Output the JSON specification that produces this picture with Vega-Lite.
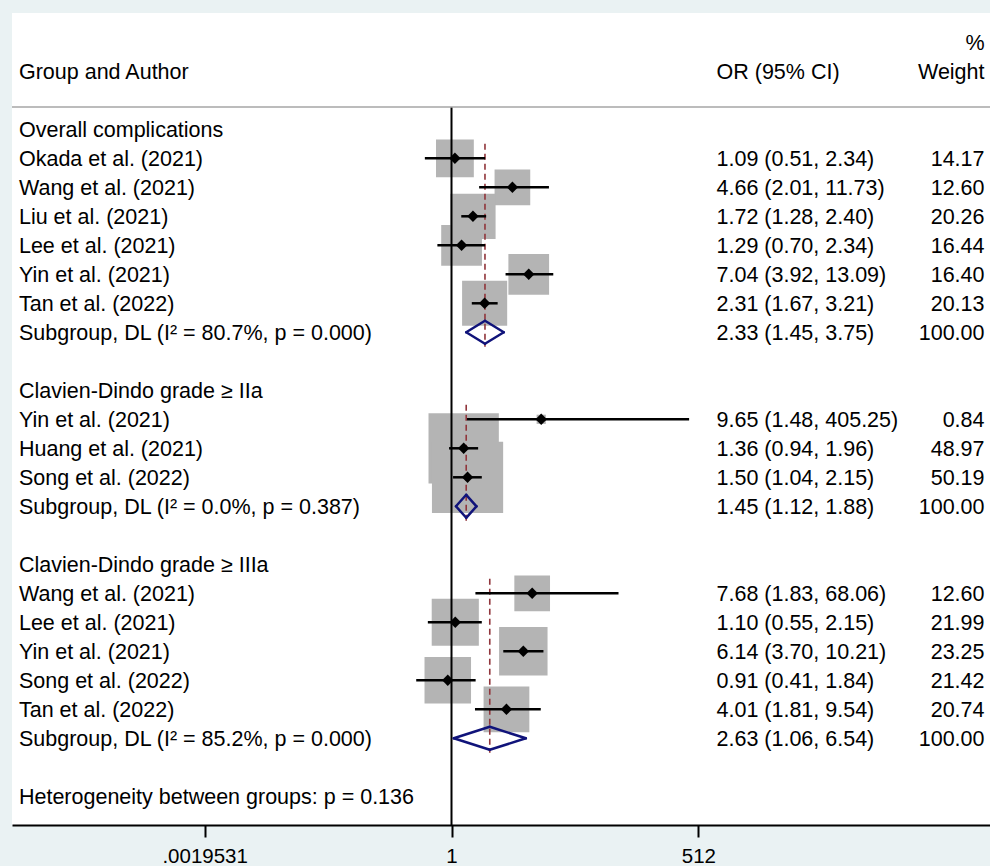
{
  "$schema": "https://vega.github.io/schema/vega-lite/v6.json",
  "width": 978,
  "height": 812,
  "autosize": "none",
  "padding": {"left": 12, "top": 13, "right": 0, "bottom": 41},
  "background": "#eaf2f3",
  "config": {"view": {"stroke": null, "fill": "white"}, "text": {"font": "Liberation Sans", "fontSize": 21.5, "color": "black", "baseline": "middle", "dy": 1.5}},
  "datasets": {
    "rows": [
      {"row": 0, "group": 1, "type": "group", "label": "Overall complications"},
      {"row": 1, "group": 1, "type": "study", "label": "Okada et al. (2021)", "or": 1.09, "lo": 0.51, "hi": 2.34, "weight": 14.17, "ci": "1.09 (0.51, 2.34)"},
      {"row": 2, "group": 1, "type": "study", "label": "Wang et al. (2021)", "or": 4.66, "lo": 2.01, "hi": 11.73, "weight": 12.60, "ci": "4.66 (2.01, 11.73)"},
      {"row": 3, "group": 1, "type": "study", "label": "Liu et al. (2021)", "or": 1.72, "lo": 1.28, "hi": 2.40, "weight": 20.26, "ci": "1.72 (1.28, 2.40)"},
      {"row": 4, "group": 1, "type": "study", "label": "Lee et al. (2021)", "or": 1.29, "lo": 0.70, "hi": 2.34, "weight": 16.44, "ci": "1.29 (0.70, 2.34)"},
      {"row": 5, "group": 1, "type": "study", "label": "Yin et al. (2021)", "or": 7.04, "lo": 3.92, "hi": 13.09, "weight": 16.40, "ci": "7.04 (3.92, 13.09)"},
      {"row": 6, "group": 1, "type": "study", "label": "Tan et al. (2022)", "or": 2.31, "lo": 1.67, "hi": 3.21, "weight": 20.13, "ci": "2.31 (1.67, 3.21)"},
      {"row": 7, "group": 1, "type": "subgroup", "label": "Subgroup, DL (I² = 80.7%, p = 0.000)", "or": 2.33, "lo": 1.45, "hi": 3.75, "weight": 100.00, "ci": "2.33 (1.45, 3.75)"},
      {"row": 9, "group": 2, "type": "group", "label": "Clavien-Dindo grade ≥ IIa"},
      {"row": 10, "group": 2, "type": "study", "label": "Yin et al. (2021)", "or": 9.65, "lo": 1.48, "hi": 405.25, "weight": 0.84, "ci": "9.65 (1.48, 405.25)"},
      {"row": 11, "group": 2, "type": "study", "label": "Huang et al. (2021)", "or": 1.36, "lo": 0.94, "hi": 1.96, "weight": 48.97, "ci": "1.36 (0.94, 1.96)"},
      {"row": 12, "group": 2, "type": "study", "label": "Song et al. (2022)", "or": 1.50, "lo": 1.04, "hi": 2.15, "weight": 50.19, "ci": "1.50 (1.04, 2.15)"},
      {"row": 13, "group": 2, "type": "subgroup", "label": "Subgroup, DL (I² = 0.0%, p = 0.387)", "or": 1.45, "lo": 1.12, "hi": 1.88, "weight": 100.00, "ci": "1.45 (1.12, 1.88)"},
      {"row": 15, "group": 3, "type": "group", "label": "Clavien-Dindo grade ≥ IIIa"},
      {"row": 16, "group": 3, "type": "study", "label": "Wang et al. (2021)", "or": 7.68, "lo": 1.83, "hi": 68.06, "weight": 12.60, "ci": "7.68 (1.83, 68.06)"},
      {"row": 17, "group": 3, "type": "study", "label": "Lee et al. (2021)", "or": 1.10, "lo": 0.55, "hi": 2.15, "weight": 21.99, "ci": "1.10 (0.55, 2.15)"},
      {"row": 18, "group": 3, "type": "study", "label": "Yin et al. (2021)", "or": 6.14, "lo": 3.70, "hi": 10.21, "weight": 23.25, "ci": "6.14 (3.70, 10.21)"},
      {"row": 19, "group": 3, "type": "study", "label": "Song et al. (2022)", "or": 0.91, "lo": 0.41, "hi": 1.84, "weight": 21.42, "ci": "0.91 (0.41, 1.84)"},
      {"row": 20, "group": 3, "type": "study", "label": "Tan et al. (2022)", "or": 4.01, "lo": 1.81, "hi": 9.54, "weight": 20.74, "ci": "4.01 (1.81, 9.54)"},
      {"row": 21, "group": 3, "type": "subgroup", "label": "Subgroup, DL (I² = 85.2%, p = 0.000)", "or": 2.63, "lo": 1.06, "hi": 6.54, "weight": 100.00, "ci": "2.63 (1.06, 6.54)"},
      {"row": 23, "group": 0, "type": "note", "label": "Heterogeneity between groups: p = 0.136"}
    ],
    "header": [
      {"row": -3, "col": "w", "text": "%"},
      {"row": -2, "col": "left", "text": "Group and Author"},
      {"row": -2, "col": "or", "text": "OR (95% CI)"},
      {"row": -2, "col": "w", "text": "Weight"}
    ]
  },
  "layer": [
    {
      "data": {"name": "rows"},
      "transform": [{"filter": "datum.type === 'study'"}],
      "mark": {"type": "point", "shape": "square", "filled": true, "color": "#b4b4b4", "opacity": 1, "strokeWidth": 0},
      "encoding": {
        "x": {"field": "or", "type": "quantitative", "title": null,
              "scale": {"type": "log", "base": 2, "domain": [0.000015017, 812540], "nice": false},
              "axis": {"values": [0.001953125, 1, 512], "labelExpr": "datum.value < 0.01 ? '.0019531' : (datum.value < 2 ? '1' : '512')", "grid": false, "domainColor": "black", "domainWidth": 2, "tickColor": "black", "tickWidth": 2, "tickSize": 12, "labelFont": "Liberation Sans", "labelFontSize": 20.5, "labelColor": "black", "labelPadding": 9, "title": null, "labelFlush": false, "labelOverlap": false}},
        "y": {"field": "row", "type": "quantitative", "scale": {"domain": [-4.0103, 23.99], "reverse": true, "nice": false, "zero": false}, "axis": null},
        "size": {"field": "weight", "type": "quantitative", "scale": {"type": "linear", "domain": [0, 100], "range": [0, 10100]}, "legend": null}
      }
    },
    {
      "data": {"values": [{"ref": 1}]},
      "mark": {"type": "rule", "color": "black", "strokeWidth": 2},
      "encoding": {
        "x": {"field": "ref", "type": "quantitative", "title": null},
        "y": {"datum": -0.769, "type": "quantitative", "axis": null},
        "y2": {"datum": 23.99}
      }
    },
    {
      "data": {"values": [{"pos": -0.769}]},
      "mark": {"type": "rule", "color": "#a6a6a6", "strokeWidth": 1.5},
      "encoding": {
        "y": {"field": "pos", "type": "quantitative", "axis": null}
      }
    },
    {
      "data": {"name": "rows"},
      "transform": [
        {"filter": "datum.group > 0"},
        {"joinaggregate": [{"op": "min", "field": "row", "as": "r0"}], "groupby": ["group"]},
        {"filter": "datum.type === 'subgroup'"}
      ],
      "mark": {"type": "rule", "color": "#90353b", "strokeWidth": 1.6, "strokeDash": [6, 4], "yOffset": 14.5, "y2Offset": 14.5},
      "encoding": {
        "x": {"field": "or", "type": "quantitative", "title": null},
        "y": {"field": "r0", "type": "quantitative", "axis": null},
        "y2": {"field": "row"}
      }
    },
    {
      "data": {"name": "rows"},
      "transform": [{"filter": "datum.type === 'study'"}],
      "mark": {"type": "rule", "color": "black", "strokeWidth": 2.5},
      "encoding": {
        "x": {"field": "lo", "type": "quantitative", "title": null},
        "x2": {"field": "hi"},
        "y": {"field": "row", "type": "quantitative", "axis": null}
      }
    },
    {
      "data": {"name": "rows"},
      "transform": [{"filter": "datum.type === 'study'"}],
      "mark": {"type": "point", "shape": "diamond", "filled": true, "color": "black", "opacity": 1, "size": 130, "strokeWidth": 0},
      "encoding": {
        "x": {"field": "or", "type": "quantitative", "title": null},
        "y": {"field": "row", "type": "quantitative", "axis": null}
      }
    },
    {
      "data": {"name": "rows"},
      "transform": [{"filter": "datum.type === 'subgroup'"}],
      "mark": {"type": "rule", "color": "#10137a", "strokeWidth": 2.5, "strokeCap": "round", "y2Offset": -11.5},
      "encoding": {
        "x": {"field": "lo", "type": "quantitative", "title": null},
        "x2": {"field": "or"},
        "y": {"field": "row", "type": "quantitative", "axis": null},
        "y2": {"field": "row"}
      }
    },
    {
      "data": {"name": "rows"},
      "transform": [{"filter": "datum.type === 'subgroup'"}],
      "mark": {"type": "rule", "color": "#10137a", "strokeWidth": 2.5, "strokeCap": "round", "yOffset": -11.5},
      "encoding": {
        "x": {"field": "or", "type": "quantitative", "title": null},
        "x2": {"field": "hi"},
        "y": {"field": "row", "type": "quantitative", "axis": null},
        "y2": {"field": "row"}
      }
    },
    {
      "data": {"name": "rows"},
      "transform": [{"filter": "datum.type === 'subgroup'"}],
      "mark": {"type": "rule", "color": "#10137a", "strokeWidth": 2.5, "strokeCap": "round", "y2Offset": 11.5},
      "encoding": {
        "x": {"field": "hi", "type": "quantitative", "title": null},
        "x2": {"field": "or"},
        "y": {"field": "row", "type": "quantitative", "axis": null},
        "y2": {"field": "row"}
      }
    },
    {
      "data": {"name": "rows"},
      "transform": [{"filter": "datum.type === 'subgroup'"}],
      "mark": {"type": "rule", "color": "#10137a", "strokeWidth": 2.5, "strokeCap": "round", "yOffset": 11.5},
      "encoding": {
        "x": {"field": "or", "type": "quantitative", "title": null},
        "x2": {"field": "lo"},
        "y": {"field": "row", "type": "quantitative", "axis": null},
        "y2": {"field": "row"}
      }
    },
    {
      "data": {"name": "rows"},
      "mark": {"type": "text", "align": "left"},
      "encoding": {
        "x": {"datum": 0.0000179, "type": "quantitative", "title": null},
        "y": {"field": "row", "type": "quantitative", "axis": null},
        "text": {"field": "label"}
      }
    },
    {
      "data": {"name": "rows"},
      "transform": [{"filter": "datum.type === 'study' || datum.type === 'subgroup'"}],
      "mark": {"type": "text", "align": "left"},
      "encoding": {
        "x": {"datum": 809.6, "type": "quantitative", "title": null},
        "y": {"field": "row", "type": "quantitative", "axis": null},
        "text": {"field": "ci"}
      }
    },
    {
      "data": {"name": "rows"},
      "transform": [{"filter": "datum.type === 'study' || datum.type === 'subgroup'"}],
      "mark": {"type": "text", "align": "right"},
      "encoding": {
        "x": {"datum": 707370, "type": "quantitative", "title": null},
        "y": {"field": "row", "type": "quantitative", "axis": null},
        "text": {"field": "weight", "type": "quantitative", "format": ".2f"}
      }
    },
    {
      "data": {"name": "header"},
      "transform": [{"filter": "datum.col === 'left'"}],
      "mark": {"type": "text", "align": "left"},
      "encoding": {
        "x": {"datum": 0.0000179, "type": "quantitative", "title": null},
        "y": {"field": "row", "type": "quantitative", "axis": null},
        "text": {"field": "text"}
      }
    },
    {
      "data": {"name": "header"},
      "transform": [{"filter": "datum.col === 'or'"}],
      "mark": {"type": "text", "align": "left"},
      "encoding": {
        "x": {"datum": 809.6, "type": "quantitative", "title": null},
        "y": {"field": "row", "type": "quantitative", "axis": null},
        "text": {"field": "text"}
      }
    },
    {
      "data": {"name": "header"},
      "transform": [{"filter": "datum.col === 'w'"}],
      "mark": {"type": "text", "align": "right"},
      "encoding": {
        "x": {"datum": 707370, "type": "quantitative", "title": null},
        "y": {"field": "row", "type": "quantitative", "axis": null},
        "text": {"field": "text"}
      }
    }
  ]
}
